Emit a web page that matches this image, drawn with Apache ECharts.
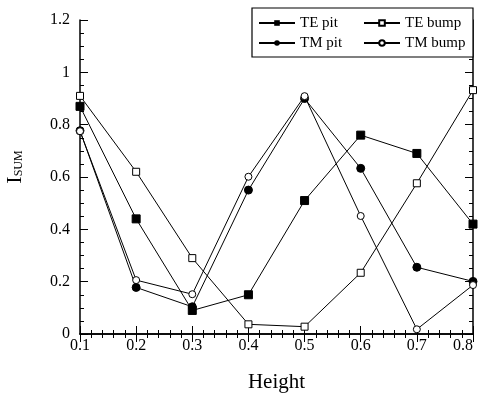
<!DOCTYPE html>
<html>
<head>
<meta charset="utf-8">
<script src="https://cdn.jsdelivr.net/npm/echarts@6/dist/echarts.min.js"></script>
<style>
html, body { margin: 0; padding: 0; background: #fff; }
#chart { width: 480px; height: 396px; }
</style>
</head>
<body>
<div id="chart"></div>
<script>
// heights on the x axis
var heights = [0.1, 0.2, 0.3, 0.4, 0.5, 0.6, 0.7, 0.8];
// I_SUM values
var tePit  = [0.87, 0.44, 0.09, 0.15, 0.51, 0.76, 0.69, 0.42];
var teBump = [0.91, 0.62, 0.29, 0.037, 0.028, 0.234, 0.576, 0.932];
var tmPit  = [0.777, 0.178, 0.104, 0.55, 0.90, 0.633, 0.255, 0.201];
var tmBump = [0.775, 0.206, 0.152, 0.601, 0.909, 0.451, 0.018, 0.187];

var font = "'Liberation Serif', 'Times New Roman', serif";

function pairs(vals) {
    return heights.map(function (h, i) { return [h, vals[i]]; });
}

var chart = echarts.init(document.getElementById('chart'));

// shared axis look, ticks point inward like the paper figure
function axisBase(show) {
    return {
        axisLine: { show: true, lineStyle: { color: '#000', width: 1.5 } },
        axisTick: { show: true, inside: true, length: 8, lineStyle: { color: '#000', width: 1 } },
        minorTick: { show: true, length: 4, lineStyle: { color: '#000', width: 1 } },
        splitLine: { show: false },
        axisLabel: {
            show: show,
            color: '#000',
            fontFamily: font,
            fontSize: 16
        }
    };
}

var xBottom = Object.assign(axisBase(true), {
    type: 'value', min: 0.1, max: 0.8, interval: 0.1, position: 'bottom',
    name: 'Height', nameLocation: 'middle', nameGap: 38,
    nameTextStyle: { color: '#000', fontFamily: font, fontSize: 21 }
});
xBottom.minorTick.splitNumber = 5;
xBottom.axisLabel.margin = 4;
xBottom.axisLabel.alignMaxLabel = 'right';

var xTop = Object.assign(axisBase(false), {
    type: 'value', min: 0.1, max: 0.8, interval: 0.1, position: 'top'
});
xTop.minorTick.splitNumber = 5;

var yLeft = Object.assign(axisBase(true), {
    type: 'value', min: 0, max: 1.2, interval: 0.2, position: 'left'
});
yLeft.minorTick.splitNumber = 4;
yLeft.axisLabel.margin = 10;

var yRight = Object.assign(axisBase(false), {
    type: 'value', min: 0, max: 1.2, interval: 0.2, position: 'right'
});
yRight.minorTick.splitNumber = 4;

var lineStyle = { color: '#000', width: 1 };

var legendText = { color: '#000', fontFamily: font, fontSize: 15, lineHeight: 16 };

var option = {
    backgroundColor: '#fff',
    animation: false,
    grid: { left: 80, right: 7, top: 20, bottom: 62, outerBoundsMode: 'none' },
    xAxis: [xBottom, xTop],
    yAxis: [yLeft, yRight],
    legend: [
        {
            data: ['TE pit', 'TM pit'],
            orient: 'vertical',
            left: 258, top: 15, padding: 0,
            itemWidth: 36, itemHeight: 7, itemGap: 4,
            textStyle: legendText
        },
        {
            data: ['TE bump', 'TM bump'],
            orient: 'vertical',
            left: 363, top: 15, padding: 0,
            itemWidth: 36, itemHeight: 7, itemGap: 4,
            textStyle: legendText
        }
    ],
    graphic: [
        {
            type: 'rect', z: 3,
            shape: { x: 252, y: 8, width: 221, height: 49 },
            style: { fill: '#fff', stroke: '#000', lineWidth: 1.2 }
        },
        {
            type: 'text', z: 3,
            x: 15, y: 167, rotation: Math.PI / 2,
            style: {
                text: '{a|I}{b|SUM}',
                align: 'center', verticalAlign: 'middle',
                rich: {
                    a: { fontFamily: font, fontSize: 22, fill: '#000' },
                    b: { fontFamily: font, fontSize: 12, fill: '#000', padding: [8, 0, 0, 0] }
                }
            }
        }
    ],
    series: [
        {
            name: 'TE pit', type: 'line', data: pairs(tePit),
            symbol: 'rect', symbolSize: 8,
            itemStyle: { color: '#000', borderColor: '#000' },
            lineStyle: lineStyle
        },
        {
            name: 'TM pit', type: 'line', data: pairs(tmPit),
            symbol: 'circle', symbolSize: 8,
            itemStyle: { color: '#000', borderColor: '#000' },
            lineStyle: lineStyle
        },
        {
            name: 'TE bump', type: 'line', data: pairs(teBump),
            symbol: 'rect', symbolSize: 7,
            itemStyle: { color: '#fff', borderColor: '#000', borderWidth: 1 },
            lineStyle: lineStyle
        },
        {
            name: 'TM bump', type: 'line', data: pairs(tmBump),
            symbol: 'circle', symbolSize: 7,
            itemStyle: { color: '#fff', borderColor: '#000', borderWidth: 1 },
            lineStyle: lineStyle
        }
    ]
};

chart.setOption(option);
</script>
</body>
</html>
